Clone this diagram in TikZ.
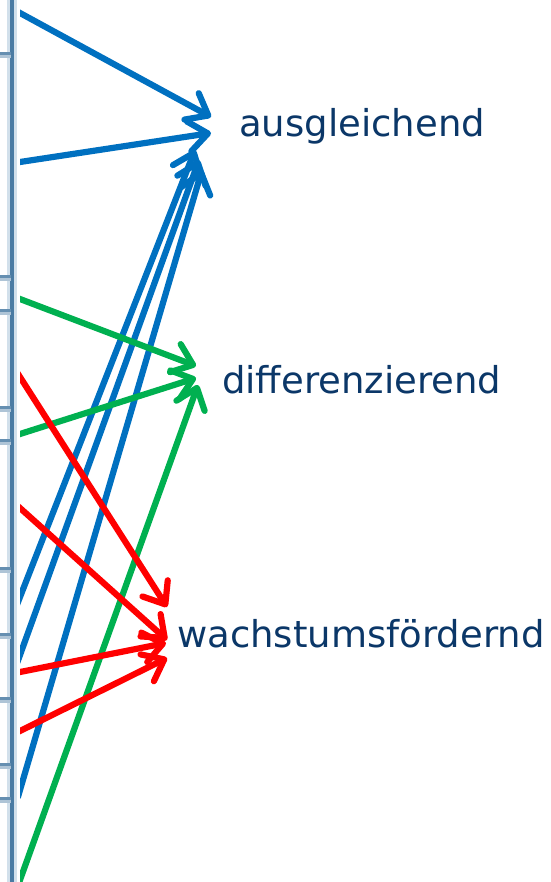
\documentclass[tikz,border=0pt]{standalone}
\usepackage{fontspec}
\setmainfont{DejaVu Sans}
\usetikzlibrary{arrows.meta}
\definecolor{ausgl}{HTML}{0070C0}
\definecolor{diffz}{HTML}{00B050}
\definecolor{wachs}{HTML}{FF0000}
\definecolor{labelc}{HTML}{0B3768}
\definecolor{rulec}{HTML}{4A7BA3}
\definecolor{rulelight}{HTML}{D2E0EB}

\begin{document}
\begin{tikzpicture}[x=1pt,y=-1pt,
    ziel/.style={font=\fontsize{37}{44}\selectfont,text=labelc,inner sep=0pt,anchor=base west},
    arr/.style={-{Straight Barb[length=19pt,width=30pt,round]},line width=6.2pt,shorten <=-8pt},
]
\useasboundingbox (0,0) rectangle (550,882);
% table edge on the left
\fill[rulelight] (7,0) rectangle (17,882);
\fill[rulec] (10,0) rectangle (13.5,882);
\foreach \y in {55,278,312,409,442,570,636,700,766,800}{
  \fill[rulec!85] (0,\y-3) rectangle (11,\y);
  \fill[rulec!45] (0,\y) rectangle (11,\y+3);
}

\node[ziel] (aus) at (239,137) {ausgleichend};
\node[ziel] (dif) at (222,393) {differenzierend};
\node[ziel] (wac) at (177,647) {wachstumsfördernd};

% start points
\coordinate (b1) at (20,13);
\coordinate (b2) at (20,162);
\coordinate (b3) at (20,597);
\coordinate (b4) at (20,655);
\coordinate (b5) at (20,790);
\coordinate (g1) at (20,299);
\coordinate (g2) at (20,434);
\coordinate (g3) at (20,880);
\coordinate (r1) at (20,377);
\coordinate (r2) at (20,508);
\coordinate (r3) at (20,672);
\coordinate (r4) at (20,731);
% arrow tips
\coordinate (tb1) at (211,117);
\coordinate (tb2) at (211,133);
\coordinate (tb3) at (195,150);
\coordinate (tb4) at (199,160);
\coordinate (tb5) at (202,170);
\coordinate (tg1) at (196,366);
\coordinate (tg2) at (196,378);
\coordinate (tg3) at (198,385);
\coordinate (tr1) at (167,607);
\coordinate (tr2) at (167,640);
\coordinate (tr3) at (166,643);
\coordinate (tr4) at (167,658);

\begin{scope}
\clip (20,0) rectangle (550,882);
\draw[arr,ausgl] (b1) -- (tb1);
\draw[arr,ausgl] (b2) -- (tb2);
\draw[arr,ausgl] (b3) -- (tb3);
\draw[arr,ausgl] (b4) -- (tb4);
\draw[arr,ausgl] (b5) -- (tb5);
\draw[arr,diffz] (g1) -- (tg1);
\draw[arr,diffz] (g2) -- (tg2);
\draw[arr,diffz] (g3) -- (tg3);
\draw[arr,wachs] (r1) -- (tr1);
\draw[arr,wachs] (r2) -- (tr2);
\draw[arr,wachs] (r3) -- (tr3);
\draw[arr,wachs] (r4) -- (tr4);
\end{scope}
\end{tikzpicture}
\end{document}
